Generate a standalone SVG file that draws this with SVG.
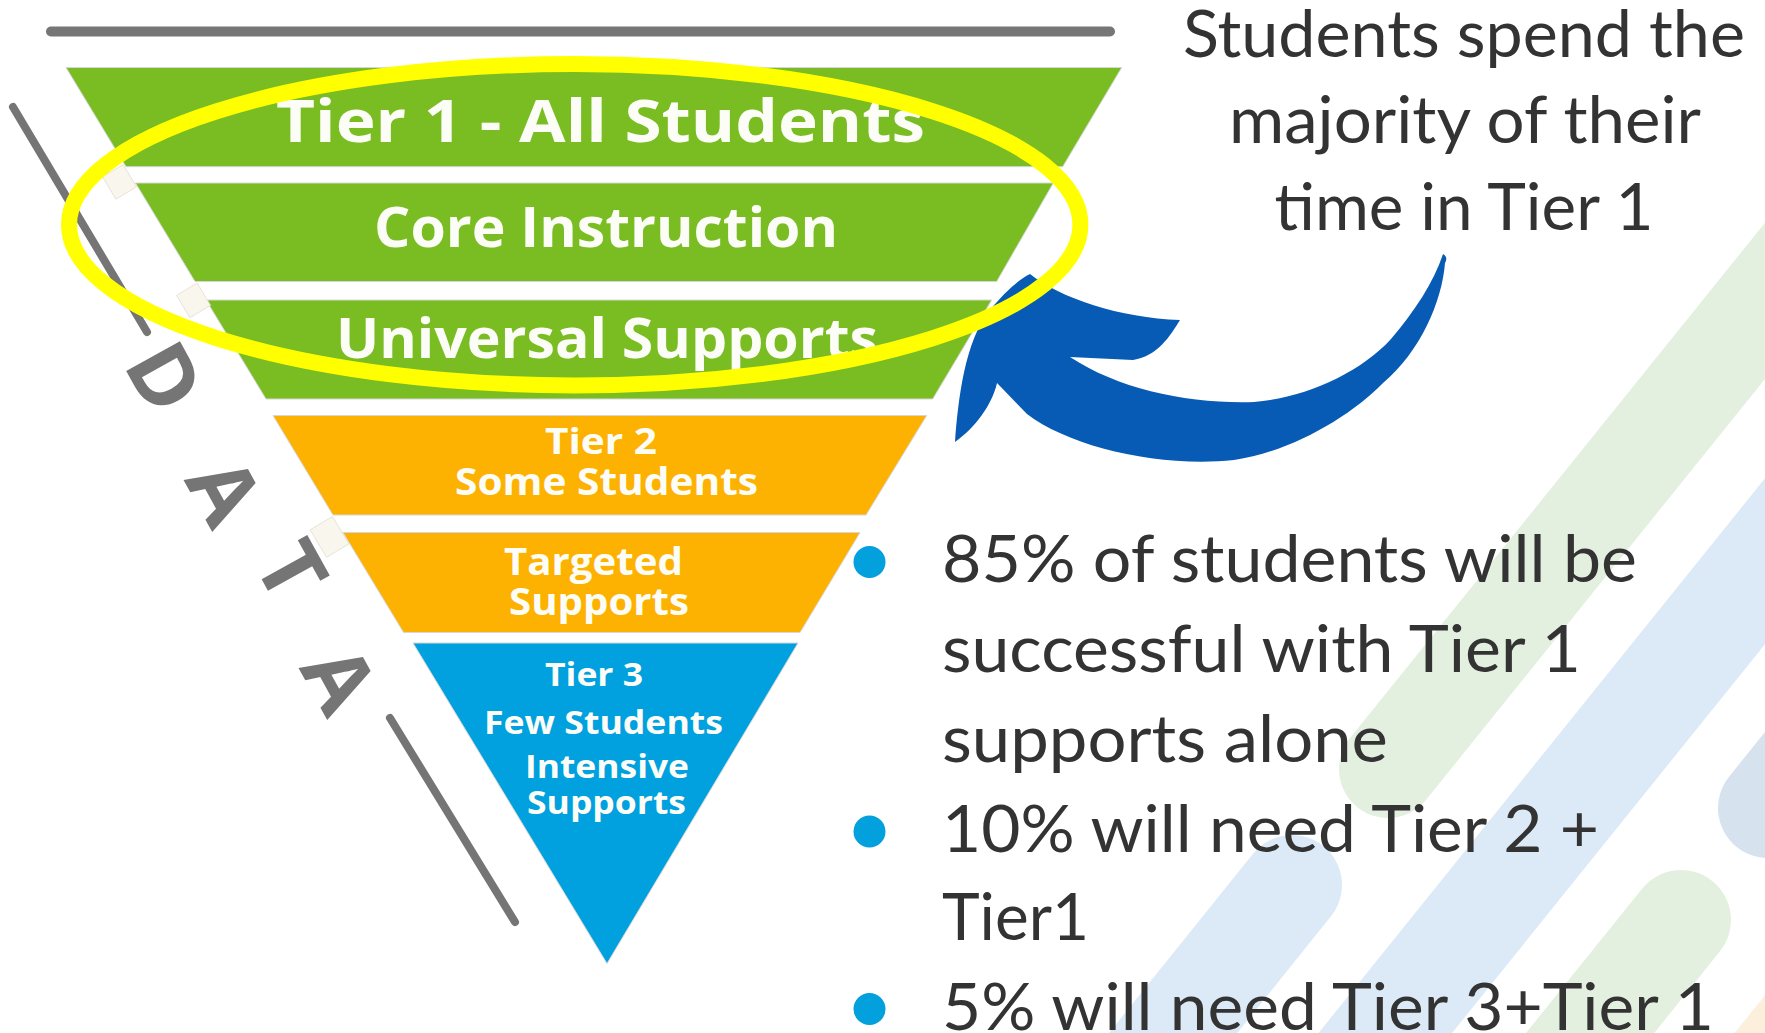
<svg xmlns="http://www.w3.org/2000/svg" width="1765" height="1033" viewBox="0 0 1765 1033">
  <defs>
    <style>
      .band-label { font-family: "Open Sans", "Liberation Sans", sans-serif; font-weight: 700; fill: #fdfdf8; text-anchor: middle; }
      .body { font-family: "Lato", "Liberation Sans", sans-serif; font-size: 65px; fill: #333333; }
      .data { font-family: "Open Sans", "Liberation Sans", sans-serif; font-weight: 700; font-size: 86px; fill: #757575; text-anchor: middle; }
      .stripe { fill: none; stroke-linecap: round; }
      .band { stroke: #d6d6d6; stroke-width: 1; }
      .tab { fill: #f9f6ee; stroke: #e6e0d2; stroke-width: 0.8; }
      .bullet { fill: #02a0dc; }
    </style>
  </defs>

  <rect width="1765" height="1033" fill="#ffffff"/>

  <!-- pale decorative stripes -->
  <g id="background-stripes">
    <line class="stripe" x1="1388" y1="769" x2="2000" y2="9" stroke="#e4f0df" stroke-width="98"/>
    <line class="stripe" x1="1300" y1="1139" x2="2100" y2="145" stroke="#dbeaf6" stroke-width="104" stroke-linecap="butt"/>
    <line class="stripe" x1="1768" y1="808" x2="2100" y2="396" stroke="#d6e3ef" stroke-width="100"/>
    <line class="stripe" x1="1292" y1="885" x2="1100" y2="1124" stroke="#dbeaf6" stroke-width="100"/>
    <line class="stripe" x1="1681" y1="920" x2="1500" y2="1145" stroke="#e4f0df" stroke-width="100"/>
    <line class="stripe" x1="1700" y1="1156" x2="1900" y2="907" stroke="#fcefdc" stroke-width="100" stroke-linecap="butt"/>
  </g>

  <!-- top rule -->
  <line x1="51" y1="31.5" x2="1110" y2="31.5" stroke="#767676" stroke-width="10" stroke-linecap="round"/>

  <!-- side rules framing the DATA label -->
  <g id="data-rules" stroke="#757575" stroke-width="8" stroke-linecap="round">
    <line x1="13" y1="107" x2="147" y2="332"/>
    <line x1="390" y1="718" x2="515" y2="922"/>
  </g>

  <g id="data-label">
    <text class="data" transform="translate(165,377) rotate(61)" dy="31">D</text>
    <text class="data" transform="translate(225,491) rotate(61)" dy="31">A</text>
    <text class="data" transform="translate(292,570) rotate(61)" dy="31">T</text>
    <text class="data" transform="translate(340,679) rotate(61)" dy="31">A</text>
  </g>

  <!-- funnel tiers -->
  <g id="tier1-all-students">
    <polygon class="band" points="66,67.5 1121.7,67.5 1062.7,166.7 126,166.7" fill="#79bd22"/>
    <text class="band-label" x="600.5" y="141.7" font-size="59" textLength="649" lengthAdjust="spacingAndGlyphs">Tier 1 - All Students</text>
  </g>
  <g id="tier1-core-instruction">
    <polygon class="band" points="135.5,183 1053.3,183 996.7,281.5 195,281.5" fill="#79bd22"/>
    <text class="band-label" x="606" y="247.3" font-size="55" textLength="464" lengthAdjust="spacingAndGlyphs">Core Instruction</text>
  </g>
  <g id="tier1-universal-supports">
    <polygon class="band" points="206,300 991.7,300 932.7,399 266,399" fill="#79bd22"/>
    <text class="band-label" x="607" y="358.3" font-size="56" textLength="542" lengthAdjust="spacingAndGlyphs">Universal Supports</text>
  </g>
  <g id="tier2-some-students">
    <polygon class="band" points="273,415.5 926.7,415.5 866,515 333,515" fill="#fdb201"/>
    <text class="band-label" x="601" y="453.5" font-size="36" textLength="112" lengthAdjust="spacingAndGlyphs">Tier 2</text>
    <text class="band-label" x="606.5" y="494.8" font-size="37" textLength="303" lengthAdjust="spacingAndGlyphs">Some Students</text>
  </g>
  <g id="tier2-targeted-supports">
    <polygon class="band" points="343,532.5 860,532.5 800,632.5 403.6,632.5" fill="#fdb201"/>
    <text class="band-label" x="593.5" y="575" font-size="37" textLength="179" lengthAdjust="spacingAndGlyphs">Targeted</text>
    <text class="band-label" x="599" y="615.4" font-size="37" textLength="180" lengthAdjust="spacingAndGlyphs">Supports</text>
  </g>
  <g id="tier3-few-students">
    <polygon class="band" points="413,643 798,643 607,963.6" fill="#00a1de"/>
    <text class="band-label" x="594" y="686" font-size="32" textLength="98" lengthAdjust="spacingAndGlyphs">Tier 3</text>
    <text class="band-label" x="603.5" y="734" font-size="32" textLength="239" lengthAdjust="spacingAndGlyphs">Few Students</text>
    <text class="band-label" x="607" y="778" font-size="32" textLength="164" lengthAdjust="spacingAndGlyphs">Intensive</text>
    <text class="band-label" x="606.5" y="814.4" font-size="32" textLength="159" lengthAdjust="spacingAndGlyphs">Supports</text>
  </g>

  <!-- small handles along the funnel edge -->
  <g id="edge-tabs">
    <rect class="tab" x="-12" y="-12" width="24" height="26" transform="translate(119,181) rotate(-31)"/>
    <rect class="tab" x="-12" y="-12" width="24" height="26" transform="translate(193,299.5) rotate(-31)"/>
    <rect class="tab" x="-13" y="-15" width="26" height="32" transform="translate(329,536) rotate(-31)"/>
  </g>

  <!-- curved arrow pointing back to Tier 1 -->
  <g id="tier1-arrow">
    <path fill="#085bb5" d="M 1030 274
      C 1060 298, 1120 318, 1180 320
      C 1170 336, 1158 356, 1133 360
      L 1070 357
      C 1120 390, 1190 404, 1254 402
      C 1305 398, 1360 373, 1391 339
      C 1414 312, 1434 282, 1443 254
      C 1447 256, 1447 260, 1445 263
      C 1442 302, 1420 352, 1383 383
      C 1350 417, 1290 452, 1234 460
      C 1160 468, 1070 447, 1027 414
      L 997 383
      C 992 405, 975 428, 955 442
      C 958 400, 965 340, 990 310
      C 1005 292, 1018 280, 1030 274 Z"/>
  </g>

  <!-- highlight around the Tier 1 bands -->
  <ellipse id="tier1-highlight" cx="574.7" cy="224.7" rx="505.7" ry="160.7" fill="none" stroke="#ffff00" stroke-width="16"/>

  <g id="callout">
    <text class="body" x="1464" y="56.7" text-anchor="middle" textLength="562" lengthAdjust="spacingAndGlyphs">Students spend the</text>
    <text class="body" x="1465" y="143.3" text-anchor="middle" textLength="472" lengthAdjust="spacingAndGlyphs">majority of their</text>
    <text class="body" x="1464" y="230" text-anchor="middle" textLength="379" lengthAdjust="spacingAndGlyphs">time in Tier 1</text>
  </g>

  <g id="tier-percentages">
    <circle class="bullet" cx="869.5" cy="562" r="16"/>
    <circle class="bullet" cx="869.5" cy="831.5" r="16"/>
    <circle class="bullet" cx="869.5" cy="1009" r="16"/>
    <text class="body" x="942" y="582.3" textLength="695" lengthAdjust="spacingAndGlyphs">85% of students will be</text>
    <text class="body" x="942" y="672.3" textLength="639" lengthAdjust="spacingAndGlyphs">successful with Tier 1</text>
    <text class="body" x="942" y="761.5" textLength="446" lengthAdjust="spacingAndGlyphs">supports alone</text>
    <text class="body" x="942" y="851.5" textLength="657" lengthAdjust="spacingAndGlyphs">10% will need Tier 2 +</text>
    <text class="body" x="942" y="940.3" textLength="147" lengthAdjust="spacingAndGlyphs">Tier1</text>
    <text class="body" x="942" y="1029.5" textLength="772" lengthAdjust="spacingAndGlyphs">5% will need Tier 3+Tier 1</text>
  </g>
</svg>
